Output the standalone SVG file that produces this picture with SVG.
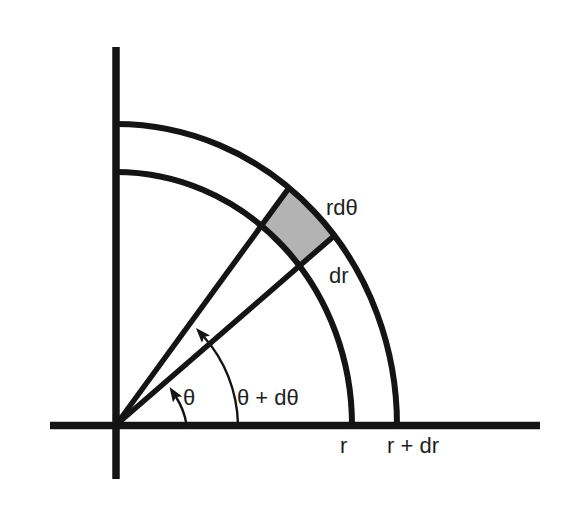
<svg xmlns="http://www.w3.org/2000/svg" width="564" height="508" viewBox="0 0 564 508">
<defs>
<style>
.axis{stroke:#141414;stroke-width:7.5;fill:none}
.arc{stroke:#141414;stroke-width:6;fill:none}
.ray{stroke:#141414;stroke-width:5.5;fill:none}
.ang{stroke:#141414;stroke-width:2.4;fill:none;marker-end:url(#ah)}
.lbl{font-family:"Liberation Sans",Arial,sans-serif;font-size:22px;fill:#1e1e1e}
</style>
<marker id="ah" markerUnits="userSpaceOnUse" markerWidth="18" markerHeight="14" refX="3" refY="5.5" orient="auto">
<path d="M0,0 L15,5.5 L0,11 L3,5.5 Z" fill="#141414"/>
</marker>
</defs>
<rect width="564" height="508" fill="#ffffff"/>
<g id="element">
<path d="M 289 187.8 A 281 301 0 0 1 334.4 235.6 L 299.4 265.8 A 236 253 0 0 0 261.3 225.6 Z" fill="#b3b3b3"/>
</g>
<g id="axes">
<line class="axis" x1="116" y1="47" x2="116" y2="479"/>
<line class="axis" x1="50" y1="425.5" x2="540" y2="425.5"/>
</g>
<g id="arcs">
<path class="arc" d="M 116 172 A 236 253 0 0 1 352 425"/>
<path class="arc" d="M 116 124 A 281 301 0 0 1 397 425"/>
</g>
<g id="connectors">
<line class="ray" x1="116" y1="425" x2="289" y2="187.8"/>
<line class="ray" x1="116" y1="425" x2="334.4" y2="235.6"/>
<path class="ang" d="M 186.5 424 A 68 72 0 0 0 176 397"/>
<path class="ang" d="M 238 424 A 122 131 0 0 0 204 337"/>
</g>
<g id="labels">
<text class="lbl" x="326" y="215">rdθ</text>
<text class="lbl" x="329" y="283">dr</text>
<text class="lbl" x="183" y="405">θ</text>
<text class="lbl" x="237" y="405">θ + dθ</text>
<text class="lbl" x="340" y="453">r</text>
<text class="lbl" x="387" y="453">r + dr</text>
</g>
</svg>
